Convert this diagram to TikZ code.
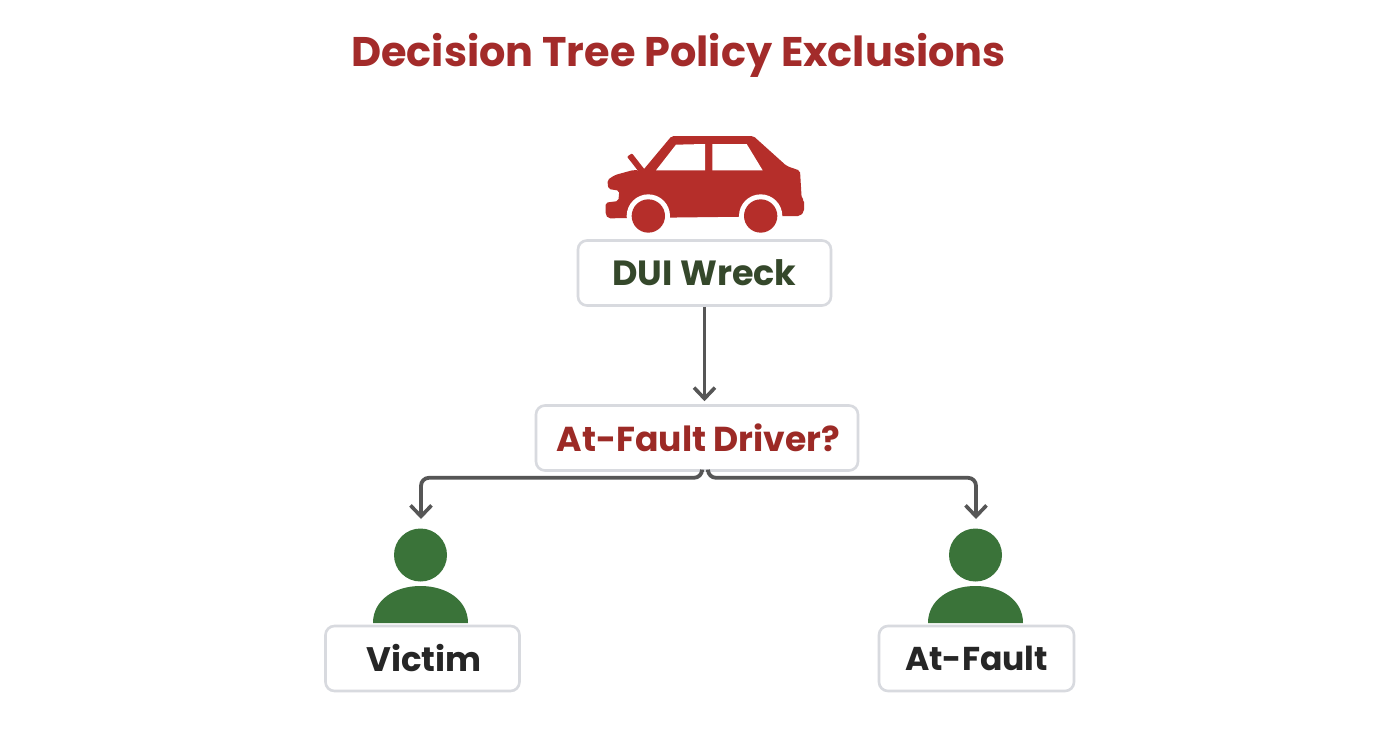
\documentclass[tikz,border=0pt]{standalone}
\usepackage{fontspec}
\setmainfont{Poppins}
\usetikzlibrary{arrows.meta}
\definecolor{carred}{HTML}{B52E2A}
\definecolor{titlered}{HTML}{A32B2A}
\definecolor{askred}{HTML}{9C2A26}
\definecolor{mangreen}{HTML}{3A7339}
\definecolor{wreckgreen}{HTML}{35482B}
\definecolor{boxgray}{HTML}{D8DADF}
\definecolor{flowgray}{HTML}{565656}
\tikzset{
  box/.style={draw=boxgray,line width=2.6pt,fill=white,rounded corners=9pt,inner sep=0pt,font=\bfseries\fontsize{35}{42}\selectfont},
  flow/.style={draw=flowgray,line width=3.8pt,-{Straight Barb[length=11pt,width=21pt,line width=3.6pt]}},
  man/.pic={
    \fill[mangreen] (-47.5,68) .. controls (-47.5,45) and (-26,31) .. (0,31)
       .. controls (26,31) and (47.5,45) .. (47.5,68) -- cycle;
  }
}
\begin{document}
\begin{tikzpicture}[x=1pt,y=-1pt]
\useasboundingbox (0,0) rectangle (1392,752);
\fill[white] (0,0) rectangle (1392,752);

\node[text=titlered,font=\bfseries\fontsize{41.4}{48}\selectfont] (title) at (678.5,55) {Decision Tree Policy Exclusions};

% car
\begin{scope}[shift={(590,120)},scale=1/3]
\fill[carred,rounded corners=2pt] (47,248) -- (85,243) -- (88,212) -- (55,207) -- (52,180) -- (75,165) -- (130,150)
   -- (158,152) -- (245,48) -- (490,48) -- (590,138) -- (630,152) -- (635,235) -- (642,240) -- (642,275)
   -- (630,288) -- (55,295) -- (47,285) -- cycle;
\fill[carred,rounded corners=1pt] (111,110) -- (126,100) -- (165,150) -- (150,160) -- cycle;
\fill[white] (198,151) -- (258,74) -- (345,72) -- (345,151) -- cycle;
\fill[white] (367,72) -- (470,72) -- (518,151) -- (367,151) -- cycle;
\fill[white] (175,288) circle (65);
\fill[white] (512,288) circle (65);
\fill[carred] (175,288) circle (50);
\fill[carred] (512,288) circle (50);
\end{scope}

% boxes
\node[box,text=wreckgreen,minimum width=253pt,minimum height=65pt] (wreck) at (704.5,273) {DUI Wreck};
\node[box,text=askred,minimum width=322pt,minimum height=65pt,font=\bfseries\fontsize{34.6}{42}\selectfont,text depth=0pt] (driver) at (697,438) {\hspace{3pt}At-Fault Driver?};

% people
\node[circle,fill=mangreen,minimum size=53pt,inner sep=0pt] (victimhead) at (420.5,555) {};
\node[circle,fill=mangreen,minimum size=53pt,inner sep=0pt] (faulthead) at (975.5,555) {};
\pic at (420.5,555) {man};
\pic at (975.5,555) {man};
\node[box,text=black!85,minimum width=194pt,minimum height=65pt,font=\bfseries\fontsize{34}{42}\selectfont] (victim) at (422.5,658.5) {\hspace{3pt}Victim};
\node[box,text=black!85,minimum width=195pt,minimum height=65pt,font=\bfseries\fontsize{33}{42}\selectfont] (fault) at (976.5,658.5) {At-Fault};

\coordinate (victimtip) at (421,519);
\coordinate (faulttip) at (976,519);

\draw[flow] (wreck.south) -- ([yshift=3pt]driver.north -| wreck.south);
\draw[flow,rounded corners=8pt] ([xshift=5pt]driver.south) -- ++(0,6) -| (victimtip);
\draw[flow,rounded corners=8pt] ([xshift=11pt]driver.south) -- ++(0,6) -| (faulttip);
\end{tikzpicture}
\end{document}
